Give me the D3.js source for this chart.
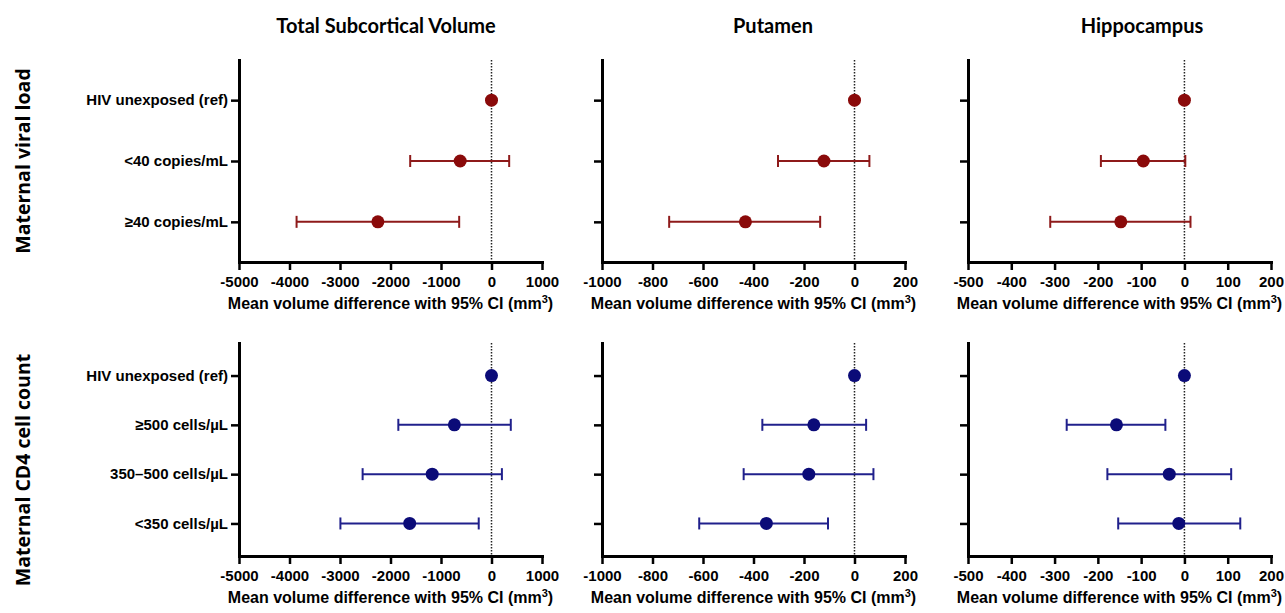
<!DOCTYPE html>
<html>
<head>
<meta charset="utf-8">
<script src="https://cdn.jsdelivr.net/npm/d3@7"></script>
<style>
  body { margin: 0; background: #fff; }
  .tick text { font-family: "Liberation Sans", Arial, sans-serif; font-weight: bold; font-size: 15px; fill: #000; }
</style>
</head>
<body>
<div id="chart"></div>
<script>
// panels (columns)
var panelTitles = ["Total Subcortical Volume", "Putamen", "Hippocampus"];
var xDomains = [[-5000, 1000], [-1000, 200], [-500, 200]];
var xTickValues = [
    [-5000, -4000, -3000, -2000, -1000, 0, 1000],
    [-1000, -800, -600, -400, -200, 0, 200],
    [-500, -400, -300, -200, -100, 0, 100, 200]
];

// row 1: maternal viral load
var viralCats = ["HIV unexposed (ref)", "<40 copies/mL", "≥40 copies/mL"];
var viralEst  = [[0, -620, -2250], [0, -121, -432], [0, -95, -147]];
var viralLow  = [[null, -1610, -3860], [null, -303, -734], [null, -193, -310]];
var viralHigh = [[null, 350, -640], [null, 59, -136], [null, 2, 14]];

// row 2: maternal CD4 cell count
var cd4Cats = ["HIV unexposed (ref)", "≥500 cells/µL", "350–500 cells/µL", "<350 cells/µL"];
var cd4Est  = [[0, -735, -1174, -1620], [0, -161, -181, -349], [0, -157, -35, -13]];
var cd4Low  = [[null, -1845, -2552, -2992], [null, -365, -439, -615], [null, -272, -178, -153]];
var cd4High = [[null, 382, 206, -253], [null, 46, 75, -105], [null, -44, 108, 129]];

var width = 1285, height = 613;
var colLeft = [239, 602, 968];
var plotW = 303;
var titleX = [386, 773, 1142];

var rows = [
    { label: "Maternal viral load", labelY: 161, top: 60, bottom: 262, cats: viralCats,
      est: viralEst, low: viralLow, high: viralHigh, dot: "#8a0a0a", line: "#8e1a1a" },
    { label: "Maternal CD4 cell count", labelY: 470, top: 343, bottom: 556, cats: cd4Cats,
      est: cd4Est, low: cd4Low, high: cd4High, dot: "#0b0b78", line: "#20208c" }
];

var svg = d3.select("#chart").append("svg")
    .attr("width", width)
    .attr("height", height);

// column titles
panelTitles.forEach(function (t, c) {
    svg.append("text")
        .attr("x", titleX[c])
        .attr("y", 33)
        .attr("text-anchor", "middle")
        .style("font-family", "Lato, 'Open Sans', sans-serif")
        .style("font-weight", "bold")
        .style("font-size", "20px")
        .text(t);
});

rows.forEach(function (row, r) {
    // row label
    svg.append("text")
        .attr("transform", "translate(30," + row.labelY + ") rotate(-90)")
        .attr("text-anchor", "middle")
        .style("font-family", "'Open Sans', sans-serif")
        .style("font-weight", "bold")
        .style("font-size", "19.5px")
        .text(row.label);

    var y = d3.scalePoint()
        .domain(row.cats)
        .range([row.top, row.bottom])
        .padding(0.66);

    panelTitles.forEach(function (t, c) {
        var x = d3.scaleLinear()
            .domain(xDomains[c])
            .range([colLeft[c], colLeft[c] + plotW]);

        // zero reference line
        svg.append("line")
            .attr("x1", x(0)).attr("x2", x(0))
            .attr("y1", row.top).attr("y2", row.bottom)
            .attr("stroke", "#222")
            .attr("stroke-width", 1.5)
            .attr("stroke-dasharray", "1.5,1.5");

        // axes
        var yAxis = d3.axisLeft(y)
            .tickSize(8)
            .tickSizeOuter(0)
            .tickPadding(3)
            .tickFormat(function (d) { return c === 0 ? d : ""; });

        var gy = svg.append("g")
            .attr("transform", "translate(" + colLeft[c] + ",0)")
            .call(yAxis);

        var xAxis = d3.axisBottom(x)
            .tickValues(xTickValues[c])
            .tickSize(8)
            .tickSizeOuter(0)
            .tickPadding(6)
            .tickFormat(function (d) { return String(d); });

        var gx = svg.append("g")
            .attr("transform", "translate(0," + row.bottom + ")")
            .call(xAxis);

        [gx, gy].forEach(function (g) {
            g.select(".domain").attr("stroke", "#000").attr("stroke-width", 3).attr("stroke-linecap", "square");
            g.selectAll(".tick line").attr("stroke", "#000").attr("stroke-width", 2.5);
        });

        // axis title
        var at = svg.append("text")
            .attr("x", colLeft[c] + plotW / 2)
            .attr("y", row.bottom + 47)
            .attr("text-anchor", "middle")
            .style("font-family", "'Liberation Sans', Arial, sans-serif")
            .style("font-weight", "bold")
            .style("font-size", "16px");
        at.append("tspan").text("Mean volume difference with 95% CI (mm");
        at.append("tspan").attr("dy", -6).style("font-size", "11px").text("3");
        at.append("tspan").attr("dy", 6).text(")");

        // error bars and points
        var data = row.cats.map(function (cat, i) {
            return { cat: cat, est: row.est[c][i], low: row.low[c][i], high: row.high[c][i] };
        });
        var bars = data.filter(function (d) { return d.low !== null; });

        svg.selectAll(null)
            .data(bars)
            .enter().append("line")
            .attr("x1", function (d) { return x(d.low); })
            .attr("x2", function (d) { return x(d.high); })
            .attr("y1", function (d) { return y(d.cat); })
            .attr("y2", function (d) { return y(d.cat); })
            .attr("stroke", row.line)
            .attr("stroke-width", 2);

        ["low", "high"].forEach(function (k) {
            svg.selectAll(null)
                .data(bars)
                .enter().append("line")
                .attr("x1", function (d) { return x(d[k]); })
                .attr("x2", function (d) { return x(d[k]); })
                .attr("y1", function (d) { return y(d.cat) - 6; })
                .attr("y2", function (d) { return y(d.cat) + 6; })
                .attr("stroke", row.line)
                .attr("stroke-width", 2);
        });

        svg.selectAll(null)
            .data(data)
            .enter().append("circle")
            .attr("cx", function (d) { return x(d.est); })
            .attr("cy", function (d) { return y(d.cat); })
            .attr("r", 6.5)
            .attr("fill", row.dot);
    });
});
</script>
</body>
</html>
